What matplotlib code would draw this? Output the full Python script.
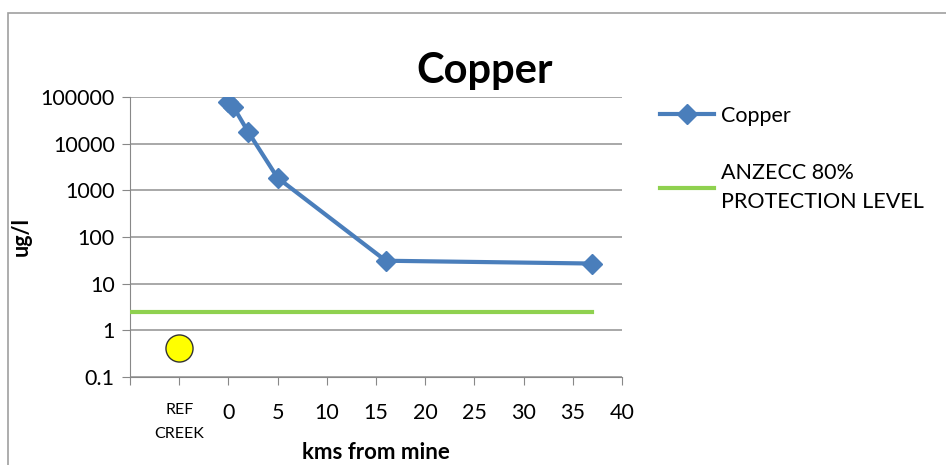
import matplotlib.pyplot as plt
from matplotlib.patches import Rectangle
from matplotlib.ticker import FixedLocator, FixedFormatter

plt.rcParams['font.family'] = ['Lato', 'DejaVu Sans']

# データ
km = [0, 0.5, 2, 5, 16, 37]
copper = [80000, 62000, 18000, 1850, 31, 27]
anzecc_x = [-10, 37]
anzecc_y = [2.5, 2.5]
ref_x = [-5]
ref_y = [0.42]
xticks = [-10, -5, 0, 5, 10, 15, 20, 25, 30, 35, 40]
xlabels = ['', 'REF\nCREEK', '0', '5', '10', '15', '20', '25', '30', '35', '40']
yticks = [0.1, 1, 10, 100, 1000, 10000, 100000]
ylabels = ['0.1', '1', '10', '100', '1000', '10000', '100000']

fig = plt.figure(figsize=(9.46, 4.65), dpi=100)
ax = fig.add_axes([130/946, 1-377/465, (622-130)/946, (377-97)/465])

# 外枠
fig.patches.append(Rectangle((8/946, -0.1), 1.0, 1-13/465+0.1, transform=fig.transFigure,
                             fill=False, edgecolor='#a0a0a0', linewidth=1.2))

ax.plot(km, copper, color='#4a7ebb', lw=3, marker='D', ms=10, label='Copper', zorder=3)
ax.plot(anzecc_x, anzecc_y, color='#8fd14f', lw=3, label='ANZECC 80%\nPROTECTION LEVEL', zorder=3)
ax.scatter(ref_x, ref_y, s=380, color='#ffff00', edgecolor='#333333', linewidth=1, zorder=4)

ax.set_yscale('log')
ax.set_ylim(0.1, 100000)
ax.set_xlim(-10, 40)
ax.yaxis.set_major_locator(FixedLocator(yticks))
ax.yaxis.set_major_formatter(FixedFormatter(ylabels))
ax.yaxis.set_minor_locator(FixedLocator([]))
ax.xaxis.set_major_locator(FixedLocator(xticks))
ax.set_xticklabels(xlabels)
for lab in ax.get_xticklabels():
    lab.set_fontsize(15.5)
ax.get_xticklabels()[1].set_fontsize(11.5)
ax.get_xticklabels()[1].set_linespacing(1.9)

ax.grid(axis='y', color='#999999', lw=1.2)
ax.spines['top'].set_visible(False)
ax.spines['right'].set_visible(False)
ax.spines['left'].set_color('#888888')
ax.spines['bottom'].set_color('#888888')
ax.tick_params(axis='y', labelsize=15.5, length=6, color='#888888', pad=5)
ax.tick_params(axis='x', length=6, color='#888888', pad=13)

ax.set_title('Copper', fontsize=30, fontweight='bold', x=0.72, y=1.02)
ax.set_ylabel('ug/l', fontsize=15.5, fontweight='bold', labelpad=6)
ax.set_xlabel('kms from mine', fontsize=16, fontweight='bold', va='center')
ax.xaxis.set_label_coords(0.5, -(452-377)/280)

leg = ax.legend(loc='upper left', bbox_to_anchor=(1.06, 1.0), frameon=False, fontsize=15.5,
                handlelength=2.5, handletextpad=0.35, labelspacing=1.75, borderaxespad=0)
for t in leg.get_texts():
    t.set_linespacing(1.55)

plt.savefig('out.png', dpi=100)
